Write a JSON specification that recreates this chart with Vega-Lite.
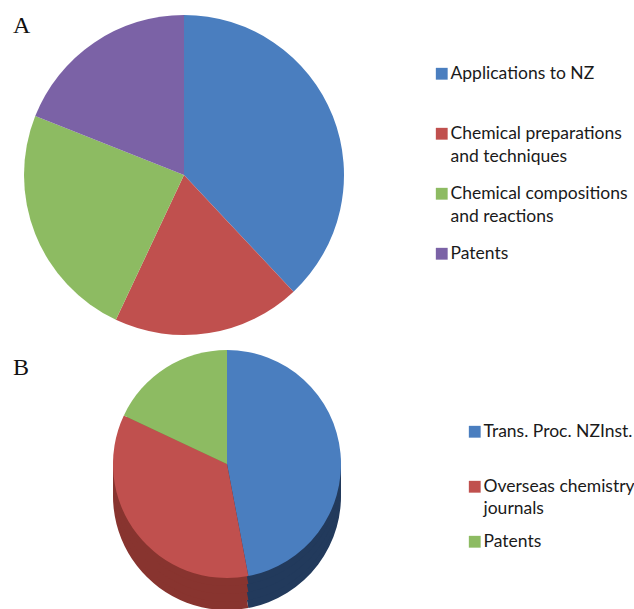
{
  "$schema": "https://vega.github.io/schema/vega-lite/v6.json",
  "padding": 0,
  "spacing": 0,
  "background": "white",
  "config": {
    "view": {"stroke": null},
    "legend": {
      "orient": "none",
      "title": null,
      "symbolType": "square",
      "symbolSize": 140,
      "symbolStrokeWidth": 0,
      "labelFont": "Lato",
      "labelFontSize": 17.5,
      "labelColor": "#1a1a1a",
      "labelLimit": 400,
      "labelOffset": 0,
      "gridAlign": "all",
      "labelBaseline": "top"
    },
    "title": {
      "anchor": "start",
      "frame": "group",
      "font": "Liberation Serif",
      "fontSize": 24,
      "fontWeight": "normal",
      "color": "#111111"
    }
  },
  "resolve": {"scale": {"color": "independent"}},
  "vconcat": [
    {
      "title": {"text": "A", "offset": -38, "dx": 13},
      "width": 368,
      "height": 350,
      "data": {
        "values": [
          {"category": "Applications to NZ", "share": 38, "rank": 1},
          {"category": "Chemical preparations and techniques", "share": 19, "rank": 2},
          {"category": "Chemical compositions and reactions", "share": 24, "rank": 3},
          {"category": "Patents", "share": 19, "rank": 4}
        ]
      },
      "mark": {"type": "arc", "radius": 160},
      "encoding": {
        "theta": {"field": "share", "type": "quantitative", "stack": true},
        "order": {"field": "rank", "type": "quantitative"},
        "color": {
          "field": "category",
          "type": "nominal",
          "scale": {
            "domain": ["Applications to NZ", "Chemical preparations and techniques", "Chemical compositions and reactions", "Patents"],
            "range": ["#4a7ebf", "#c0504e", "#8dbb62", "#7b62a6"]
          },
          "legend": {
            "legendX": 433,
            "legendY": 65,
            "rowPadding": 18,
            "labelExpr": "datum.label == 'Chemical preparations and techniques' ? ['Chemical preparations', 'and techniques'] : datum.label == 'Chemical compositions and reactions' ? ['Chemical compositions', 'and reactions'] : datum.label",
            "encode": {"labels": {"update": {"dy": {"value": -9}, "lineHeight": {"value": 23}}}}
          }
        }
      }
    },
    {
      "title": {"text": "B", "offset": -30, "dx": 13},
      "width": 454,
      "height": 224,
      "data": {
        "values": [
          {"category": "Trans. Proc. NZInst.", "share": 47, "rank": 1},
          {"category": "Overseas chemistry journals", "share": 35, "rank": 2},
          {"category": "Patents", "share": 18, "rank": 3}
        ]
      },
      "resolve": {"scale": {"color": "independent"}},
      "layer": [
        {
          "mark": {"type": "arc", "radius": 114, "yOffset": 32},
          "encoding": {
            "theta": {"field": "share", "type": "quantitative", "stack": true},
            "order": {"field": "rank", "type": "quantitative"},
            "color": {
              "field": "category",
              "type": "nominal",
              "scale": {"domain": ["Trans. Proc. NZInst.", "Overseas chemistry journals", "Patents"], "range": ["#223a5c", "#88342f", "#6a8842"]},
              "legend": null
            }
          }
        },
        {
          "mark": {"type": "arc", "radius": 114, "yOffset": 24},
          "encoding": {
            "theta": {"field": "share", "type": "quantitative", "stack": true},
            "order": {"field": "rank", "type": "quantitative"},
            "color": {
              "field": "category",
              "type": "nominal",
              "scale": {"domain": ["Trans. Proc. NZInst.", "Overseas chemistry journals", "Patents"], "range": ["#223a5c", "#88342f", "#6a8842"]},
              "legend": null
            }
          }
        },
        {
          "mark": {"type": "arc", "radius": 114, "yOffset": 16},
          "encoding": {
            "theta": {"field": "share", "type": "quantitative", "stack": true},
            "order": {"field": "rank", "type": "quantitative"},
            "color": {
              "field": "category",
              "type": "nominal",
              "scale": {"domain": ["Trans. Proc. NZInst.", "Overseas chemistry journals", "Patents"], "range": ["#223a5c", "#88342f", "#6a8842"]},
              "legend": null
            }
          }
        },
        {
          "mark": {"type": "arc", "radius": 114, "yOffset": 8},
          "encoding": {
            "theta": {"field": "share", "type": "quantitative", "stack": true},
            "order": {"field": "rank", "type": "quantitative"},
            "color": {
              "field": "category",
              "type": "nominal",
              "scale": {"domain": ["Trans. Proc. NZInst.", "Overseas chemistry journals", "Patents"], "range": ["#223a5c", "#88342f", "#6a8842"]},
              "legend": null
            }
          }
        },
        {
          "mark": {"type": "arc", "radius": 114},
          "encoding": {
            "theta": {"field": "share", "type": "quantitative", "stack": true},
            "order": {"field": "rank", "type": "quantitative"},
            "color": {
              "field": "category",
              "type": "nominal",
              "scale": {"domain": ["Trans. Proc. NZInst.", "Overseas chemistry journals", "Patents"], "range": ["#4a7ebf", "#c0504e", "#8dbb62"]},
              "legend": {
                "legendX": 466,
                "legendY": 71,
                "rowPadding": 14,
                "labelExpr": "datum.label == 'Overseas chemistry journals' ? ['Overseas chemistry', 'journals'] : datum.label",
                "encode": {"labels": {"update": {"dy": {"value": -9}, "lineHeight": {"value": 22}}}}
              }
            }
          }
        }
      ]
    }
  ]
}
